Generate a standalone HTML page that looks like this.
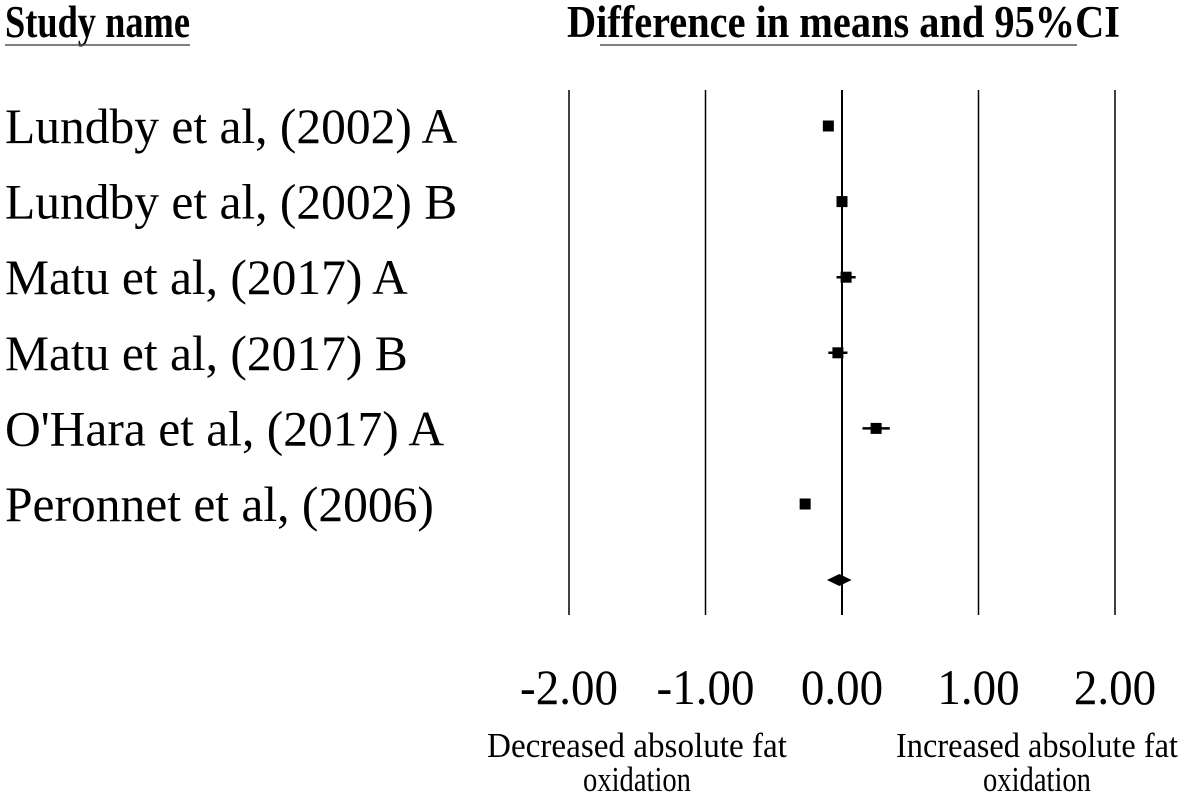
<!DOCTYPE html>
<html><head><meta charset="utf-8"><style>
html,body{margin:0;padding:0;background:#fff;}
svg{display:block;font-family:"Liberation Serif",serif;}
</style></head><body>
<svg id="chart" width="1181" height="798" viewBox="0 0 1181 798">
<text class="fit" data-w="185" x="5" y="37" font-size="46" font-weight="bold">Study name</text>
<line x1="5" y1="45" x2="190" y2="45" stroke="#555" stroke-width="1.5"/>
<text class="fit" data-w="553" x="567" y="37" font-size="46" font-weight="bold">Difference in means and 95%CI</text>
<line x1="600" y1="45" x2="1077" y2="45" stroke="#555" stroke-width="1.5"/>
<g id="grid"></g><g id="labels"></g><g id="marks"></g><g id="ticks"></g>
<text class="fit" data-w="300" data-c="1" x="637" y="757" font-size="35">Decreased absolute fat</text>
<text class="fit" data-w="108" data-c="1" x="637" y="791" font-size="35">oxidation</text>
<text class="fit" data-w="282" data-c="1" x="1037" y="757" font-size="35">Increased absolute fat</text>
<text class="fit" data-w="108" data-c="1" x="1037" y="791" font-size="35">oxidation</text>
</svg>
<script>
const studies=["Lundby et al, (2002) A","Lundby et al, (2002) B","Matu et al, (2017) A","Matu et al, (2017) B","O'Hara et al, (2017) A","Peronnet et al, (2006)"];
const means=[-0.10,0.00,0.03,-0.03,0.25,-0.27];
const lower=[-0.12,-0.02,-0.04,-0.10,0.15,-0.29];
const upper=[-0.08,0.02,0.10,0.04,0.35,-0.25];
const pooledMean=-0.02, pooledLower=-0.11, pooledUpper=0.07;
const tickValues=[-2,-1,0,1,2];
const tickLabels=["-2.00","-1.00","0.00","1.00","2.00"];
const NS="http://www.w3.org/2000/svg";
const xs=v=>842+v*136.5;
const ys=i=>126+i*75.6;
function mk(tag,attrs,parent,txt){const e=document.createElementNS(NS,tag);for(const k in attrs)e.setAttribute(k,attrs[k]);if(txt!==undefined)e.textContent=txt;document.getElementById(parent).appendChild(e);return e;}
tickValues.forEach((v,i)=>{
 const l=mk('line',{x1:xs(v),x2:xs(v),y1:90,y2:615,stroke:'#000','stroke-width':v===0?2:1.5},'grid');
 
 
 const t=mk('text',{x:xs(v),y:704,'font-size':50,'text-anchor':'middle'},'ticks',tickLabels[i]);
 t.setAttribute('transform',`translate(${xs(v)} 0) scale(0.94 1) translate(${-xs(v)} 0)`);
 
 
});
studies.forEach((s,i)=>{
 const t=mk('text',{x:5,y:ys(i)+17,'font-size':49.5},'labels',s);
 
 
 const c=mk('line',{x1:xs(lower[i]),x2:xs(upper[i]),y1:ys(i),y2:ys(i),stroke:'#000','stroke-width':2.5},'marks');
 
 
 const r=mk('rect',{x:xs(means[i])-5.5,y:ys(i)-5.5,width:11,height:11,fill:'#000'},'marks');
 
 
});
const py=580;
const d=mk('polygon',{points:`${xs(pooledLower)},${py} ${xs(pooledMean)},${py-6} ${xs(pooledUpper)},${py} ${xs(pooledMean)},${py+6}`,fill:'#000'},'marks');


document.querySelectorAll('text.fit').forEach(t=>{
 const w=+t.getAttribute('data-w');const len=t.getComputedTextLength();const s=w/len;
 const x=+t.getAttribute('x');
 if(t.getAttribute('data-c')){t.setAttribute('text-anchor','middle');}
 t.setAttribute('transform',`translate(${x} 0) scale(${s} 1) translate(${-x} 0)`);
});
</script>
</body></html>
